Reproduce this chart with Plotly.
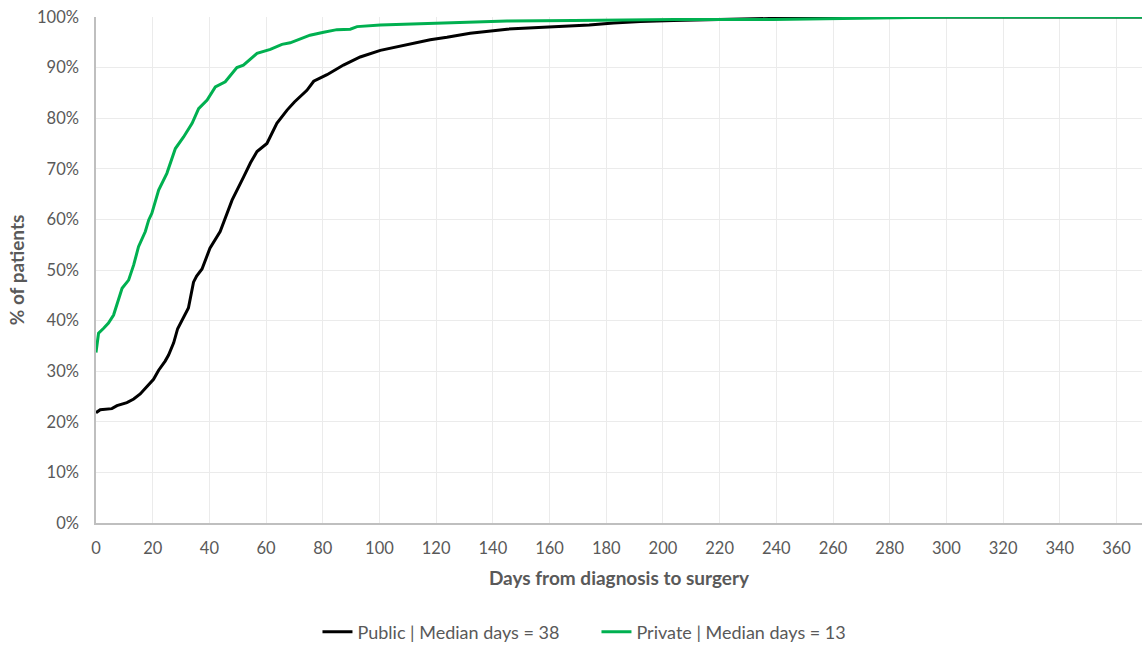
import plotly.graph_objects as go

# Public (black) cumulative % of patients by days from diagnosis to surgery
pub_days = [0, 1.5, 5.6, 7.4, 10.9, 13.3, 15.6, 17, 20.3, 22.1, 24.4, 25.6, 27.4, 28.8,
            31.5, 32.6, 34.4, 35.5, 37.4, 40.2, 43.8, 46, 48, 52, 54.5, 56.8, 60.3, 63.8,
            67.4, 70, 74.4, 76.8, 81.5, 87.3, 93.2, 100.3, 109.7, 117.9, 123.8, 132, 145,
            160, 174, 182.6, 192, 203.7, 227, 239, 262.5, 369]
pub_pct = [21.8, 22.4, 22.6, 23.2, 23.8, 24.5, 25.5, 26.4, 28.4, 30.2, 32.0, 33.2, 35.6, 38.4,
           41.2, 42.5, 47.6, 48.8, 50.2, 54.3, 57.6, 61.0, 63.8, 68.3, 71.2, 73.4, 75.0, 79.0,
           81.6, 83.2, 85.5, 87.3, 88.6, 90.5, 92.1, 93.4, 94.6, 95.5, 96.0, 96.8, 97.6,
           98.0, 98.4, 98.8, 99.1, 99.3, 99.6, 99.8, 100, 100]

# Private (green)
prv_days = [0, 0.9, 2.7, 4.4, 6.2, 7.4, 9.2, 11.5, 13.3, 15, 17.4, 18.6, 19.7, 22.1, 25, 28,
            30.9, 33.9, 36.2, 39.2, 42.1, 45.6, 49.7, 52, 53.3, 56.8, 61.5, 65.6, 68.5, 75.5,
            80.3, 85, 89.7, 92.1, 100.3, 112, 123.8, 132, 145, 168.5, 204, 239, 262.5, 300, 369]
prv_pct = [33.7, 37.5, 38.5, 39.5, 41.1, 43.4, 46.4, 48.0, 51.0, 54.6, 57.6, 59.9, 61.2, 65.8,
           69.1, 74.0, 76.3, 79.0, 81.9, 83.6, 86.2, 87.2, 90.0, 90.5, 91.1, 92.8, 93.6, 94.6,
           94.9, 96.4, 97.0, 97.5, 97.6, 98.1, 98.4, 98.6, 98.8, 99.0, 99.2, 99.3, 99.5, 99.5,
           99.7, 100, 100]

series_names = ["Public | Median days = 38", "Private | Median days = 13"]
x_ticks = list(range(0, 361, 20))
y_ticks = list(range(0, 101, 10))
y_tick_labels = [f"{v}%" for v in y_ticks]

FONT = "Lato, 'Open Sans', sans-serif"
GREY = "#595959"

fig = go.Figure()
fig.add_trace(go.Scatter(x=pub_days, y=pub_pct, mode="lines", name=series_names[0],
                         line=dict(color="#000000", width=3)))
fig.add_trace(go.Scatter(x=prv_days, y=prv_pct, mode="lines", name=series_names[1],
                         line=dict(color="#00B050", width=3)))

fig.update_layout(
    width=1142, height=645,
    margin=dict(l=96, r=0, t=17, b=122, autoexpand=False),
    paper_bgcolor="white", plot_bgcolor="white",
    font=dict(family=FONT, color=GREY, size=16),
    legend=dict(orientation="h", xref="container", yref="container",
                x=0.278, y=0.02, xanchor="left", yanchor="middle",
                entrywidth=234, entrywidthmode="pixels",
                font=dict(size=18, color=GREY)),
    showlegend=True,
)
fig.update_xaxes(
    range=[0, 369], tickvals=x_ticks, showgrid=True, gridcolor="#EBEBEB", gridwidth=1,
    showline=True, linecolor="#BFBFBF", linewidth=1.5, zeroline=False, automargin=False,
    ticks="", ticklabelstandoff=9, tickfont=dict(size=16.5, color=GREY),
    title=dict(text="<b>Days from diagnosis to surgery</b>", font=dict(size=19, color=GREY), standoff=15),
)
fig.update_yaxes(
    range=[0, 100], tickvals=y_ticks, ticktext=y_tick_labels, showgrid=True, gridcolor="#EBEBEB",
    gridwidth=1, showline=True, linecolor="#BFBFBF", linewidth=1.5, zeroline=False, automargin=False,
    ticks="", ticklabelstandoff=12, tickfont=dict(size=16.5, color=GREY),
    title=dict(text="<b>% of patients</b>", font=dict(size=19, color=GREY), standoff=7),
)

fig.write_html("out.html", config={"displayModeBar": False},
               post_script="document.body.style.margin='0';")
